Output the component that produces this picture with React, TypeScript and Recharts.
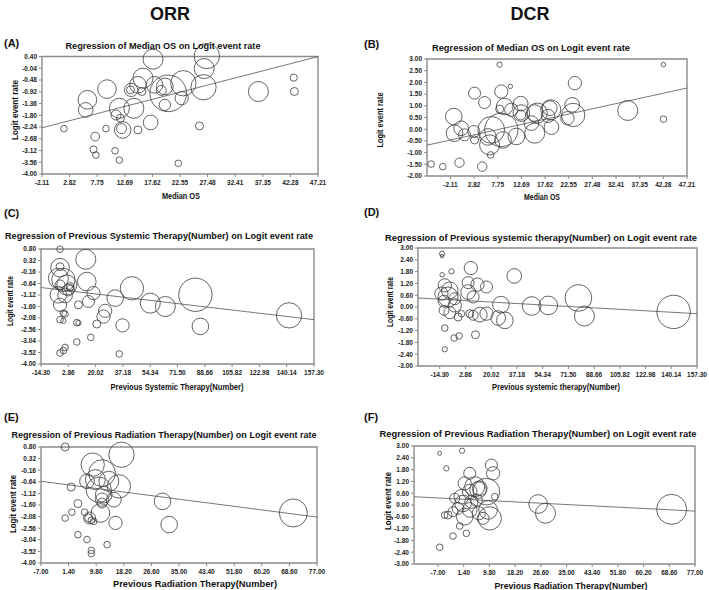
import React from "react";
import {
  ScatterChart,
  Scatter,
  XAxis,
  YAxis,
  ZAxis,
  ReferenceArea,
  ReferenceLine,
} from "recharts";

const FONT = "Arial, 'Liberation Sans', Helvetica, sans-serif";

// axis ticks
const osTicks = [-2.11, 2.82, 7.75, 12.69, 17.62, 22.55, 27.48, 32.41, 37.35, 42.28, 47.21];
const sysTicks = [-14.3, 2.86, 20.02, 37.18, 54.34, 71.5, 88.66, 105.82, 122.98, 140.14, 157.3];
const radTicks = [-7, 1.4, 9.8, 18.2, 26.6, 35, 43.4, 51.8, 60.2, 68.6, 77];
const orrTicks = [0.4, -0.04, -0.48, -0.92, -1.36, -1.8, -2.24, -2.68, -3.12, -3.56, -4.0];
const orrTicks2 = [0.8, 0.32, -0.16, -0.64, -1.12, -1.6, -2.08, -2.56, -3.04, -3.52, -4.0];
const dcrOsTicks = [3.0, 2.5, 2.0, 1.5, 1.0, 0.5, 0.0, -0.5, -1.0, -1.5, -2.0];
const dcrTicks = [3.0, 2.4, 1.8, 1.2, 0.6, 0.0, -0.6, -1.2, -1.8, -2.4, -3.0];

// (A) ORR vs median OS
const aX = [1.8, 17.73, 27.35, 26.87, 26.75, 23.15, 20.44, 15.93, 18.0, 19.84, 19.2, 22.85, 19.84, 17.31, 13.82, 15.03, 15.75, 13.7, 9.5, 6.0, 5.7, 11.72, 14.3, 11.12, 11.9, 12.32, 12.1, 15.03, 9.32, 7.39, 7.09, 7.51, 10.94, 11.72, 22.24, 26.03, 36.56, 42.87, 42.99];
const aY = [-2.3, 0.3, 0.42, -0.05, -0.75, -0.6, -0.98, -0.41, -0.66, -0.72, -0.87, -1.16, -1.41, -2.07, -0.85, -0.66, -0.91, -0.85, -0.82, -1.22, -1.6, -1.54, -1.54, -1.79, -1.91, -2.35, -2.3, -2.35, -2.3, -2.6, -3.08, -3.29, -3.13, -3.48, -3.6, -2.2, -0.91, -0.39, -0.91];
const aW = [11, 100, 160, 100, 160, 160, 336, 100, 69, 69, 25, 44, 32, 54, 44, 69, 16, 16, 87, 87, 54, 100, 100, 25, 16, 69, 25, 16, 11, 19, 13, 11, 11, 11, 11, 16, 100, 13, 16];

// (B) DCR vs median OS
const bX = [8.14, 42.3, 10.37, 23.83, 2.91, 8.49, 5.0, 12.67, 9.19, 8.14, 10.58, 12.53, 15.46, 12.53, 16.0, 18.6, 18.25, 23.27, 22.29, 23.48, 18.81, 34.85, 42.3, -1.41, -1.27, 0.12, 0.82, 2.77, 2.91, 6.4, 6.05, 5.7, 8.49, 8.84, 6.26, 11.63, 14.77, 15.46, 18.95, -6.15, -3.71, -0.23, 4.52];
const bY = [2.76, 2.76, 1.83, 1.97, 1.54, 1.61, 1.14, 0.69, 0.97, 0.86, 0.83, 1.09, 0.69, 0.61, 0.69, 0.9, 0.57, 1.04, 0.47, 0.61, 0.83, 0.8, 0.43, 0.54, -0.17, 0.04, -0.24, -0.1, -0.46, -0.03, -0.67, -0.33, -0.03, -0.46, -1.1, -0.31, 0.26, -0.17, 0.09, -1.49, -1.6, -1.43, -1.6];
const bW = [7, 5, 5, 44, 36, 44, 36, 69, 69, 16, 44, 54, 69, 25, 100, 54, 44, 54, 44, 136, 100, 100, 11, 69, 69, 54, 36, 36, 16, 178, 100, 69, 278, 69, 11, 69, 54, 100, 54, 11, 11, 22, 22];

// (C) ORR vs previous systemic therapy
const cX = [-2.33, 13.85, -2.33, -2.33, -3.37, -0.22, 1.88, 14.48, -2.33, 3.98, 2.93, -3.37, 0.83, 18.68, 15.53, -2.33, 9.23, 26.04, 24.99, 32.34, 42.84, 54.4, 63.85, 82.76, 85.9, 141.6, 36.96, 20.78, 8.18, 9.23, -2.33, -0.22, 0.83, -0.22, 8.18, 17.0, 0.83, -0.22, -2.33, 34.86, 3.98];
const cY = [0.79, 0.37, 0.02, 0.06, -0.42, -0.49, -0.7, -0.56, -0.7, -0.77, -0.91, -1.11, -1.14, -1.04, -1.39, -1.53, -1.53, -1.78, -2.02, -1.25, -0.84, -1.46, -1.6, -1.11, -2.43, -1.97, -2.39, -2.33, -2.27, -2.29, -2.15, -2.2, -1.92, -1.88, -3.08, -2.89, -3.31, -3.44, -3.54, -3.58, -0.84];
const cW = [11, 100, 87, 16, 100, 136, 100, 87, 25, 16, 36, 69, 54, 44, 36, 44, 16, 44, 44, 69, 136, 100, 100, 278, 69, 160, 44, 16, 11, 7, 11, 7, 11, 11, 11, 11, 11, 11, 11, 11, 11];

// (D) DCR vs previous systemic therapy
const dX = [-12.74, -12.74, -12.74, -6.5, 6.43, 35.4, 4.64, 10.88, 16.9, -10.96, -7.61, -13.19, -8.73, -11.4, -4.27, 4.64, 7.99, -4.27, -11.4, -7.61, -2.04, 0.19, 5.76, 7.99, 12.44, 16.9, 26.48, 24.7, 29.16, 47.0, 58.1, 78.2, 82.2, 141.7, -10.96, -4.72, -1.37, 9.55, -10.96];
const dY = [2.71, 2.59, 1.64, 1.81, 1.98, 1.58, 1.24, 1.14, 1.02, 1.1, 0.85, 0.68, 0.51, 0.29, 0.42, 0.76, 0.51, 0.08, -0.17, -0.29, -0.51, -0.34, -0.34, -0.42, -0.39, -0.34, 0.12, -0.56, -0.68, 0.05, 0.08, 0.46, -0.46, -0.25, -1.07, -1.58, -1.47, -1.41, -2.15];
const dW = [7, 3, 5, 7, 44, 54, 36, 44, 36, 44, 69, 44, 100, 36, 36, 54, 36, 44, 25, 36, 16, 11, 16, 25, 54, 44, 69, 54, 69, 87, 87, 178, 100, 278, 11, 11, 11, 16, 7];

// (E) ORR vs previous radiation therapy
const eX = [0.35, 17.5, 8.73, 11.59, 9.55, 7.0, 13.63, 16.7, 10.57, 12.1, 11.59, 15.17, 11.59, 11.08, 2.19, 4.24, 2.4, 6.28, 0.35, 7.5, 8.3, 9.04, 15.68, 29.98, 32.0, 69.8, 4.24, 7.0, 8.32, 8.32, 13.12, 7.8];
const eY = [0.8, 0.48, 0.07, -0.28, -0.55, -0.62, -0.62, -0.83, -0.97, -1.17, -1.38, -1.38, -1.52, -1.93, -0.86, -1.54, -1.9, -1.9, -2.14, -2.14, -2.23, -2.28, -2.34, -1.45, -2.41, -1.93, -2.83, -3.03, -3.48, -3.61, -3.24, -2.14];
const eW = [16, 160, 136, 178, 100, 54, 100, 136, 160, 69, 44, 54, 25, 87, 16, 16, 11, 11, 11, 16, 11, 11, 44, 69, 69, 196, 11, 11, 11, 11, 11, 36];

// (F) DCR vs previous radiation therapy
const fX = [-6.45, 0.85, -4.27, 10.45, 11.0, 3.36, 1.73, 4.99, 6.09, 3.36, 8.82, 6.64, 0.64, 1.18, 3.91, 5.54, 3.36, 1.73, 6.31, 9.36, 7.73, 9.91, 11.55, -3.73, -2.09, -4.82, -2.09, 0.09, 2.27, -6.45, 25.73, 28.13, 69.36, -1.55, -0.45];
const fY = [2.63, 2.76, 1.86, 2.03, 1.61, 1.61, 1.1, 0.93, 0.76, 0.68, 0.68, 0.85, 0.42, 0.08, 0.17, 0.25, -0.25, -0.59, -0.42, -0.25, -0.68, -0.68, 0.42, -0.51, -0.34, -0.51, -1.58, -1.07, -1.44, -2.15, 0.05, -0.42, -0.22, 0.34, -0.17];
const fW = [4, 7, 7, 36, 44, 36, 44, 100, 69, 54, 178, 54, 54, 69, 44, 36, 54, 69, 44, 87, 36, 136, 11, 16, 25, 11, 11, 11, 11, 11, 87, 100, 225, 25, 36];

// regression lines (logit = intercept + slope * x)
const regA = { intercept: -2.156, slope: 0.0541 };
const regB = { intercept: -0.367, slope: 0.04505 };
const regC = { intercept: -0.92, slope: -0.00781 };
const regD = { intercept: 0.336, slope: -0.0043 };
const regE = { intercept: -0.743, slope: -0.01762 };
const regF = { intercept: 0.302, slope: -0.00795 };

const toPoints = (xs: number[], ys: number[], ws: number[]) =>
  xs.map((x, i) => ({ x, y: ys[i], w: ws[i] }));

interface PanelProps {
  frame: [number, number, number, number];
  xDomain: [number, number];
  xTicks: number[];
  yTicks: number[];
  points: { x: number; y: number; w: number }[];
  reg: { intercept: number; slope: number };
}

function Panel({ frame, xDomain, xTicks, yTicks, points, reg }: PanelProps) {
  const [fx, fy, fw, fh] = frame;
  const axisW = 34;
  const mTop = 24;
  const mRight = 22;
  const axisH = 16;
  const mBottom = 6;
  const yDomain: [number, number] = [yTicks[yTicks.length - 1], yTicks[0]];
  const tickStyle = { fontSize: 6.5, fontWeight: 700, fill: "#222", fontFamily: FONT };
  const segment = [
    { x: xDomain[0], y: reg.intercept + reg.slope * xDomain[0] },
    { x: xDomain[1], y: reg.intercept + reg.slope * xDomain[1] },
  ];
  return (
    <div style={{ position: "absolute", left: fx - axisW, top: fy - mTop }}>
      <ScatterChart
        width={axisW + fw + mRight}
        height={mTop + fh + axisH + mBottom}
        margin={{ top: mTop, right: mRight, bottom: mBottom, left: 0 }}
        style={{ overflow: "visible" }}
      >
        <XAxis
          type="number"
          dataKey="x"
          domain={xDomain}
          ticks={xTicks}
          interval={0}
          height={axisH}
          axisLine={false}
          tickSize={3}
          tickMargin={3}
          tickLine={{ stroke: "#888" }}
          tick={tickStyle}
          tickFormatter={(v: number) => v.toFixed(2)}
        />
        <YAxis
          type="number"
          dataKey="y"
          domain={yDomain}
          ticks={yTicks}
          interval={0}
          width={axisW}
          axisLine={false}
          tickSize={3}
          tickMargin={2}
          tickLine={{ stroke: "#888" }}
          tick={tickStyle}
          tickFormatter={(v: number) => v.toFixed(2)}
        />
        <ZAxis type="number" dataKey="w" domain={[0, 400]} range={[0, 400 * Math.PI]} />
        <ReferenceArea
          x1={xDomain[0]}
          x2={xDomain[1]}
          y1={yDomain[0]}
          y2={yDomain[1]}
          fill="none"
          stroke="#8c8c8c"
          strokeWidth={1.4}
          ifOverflow="visible"
        />
        <ReferenceLine segment={segment} stroke="#555" strokeWidth={0.8} ifOverflow="visible" />
        <Scatter
          data={points}
          fill="none"
          stroke="#3c3c3c"
          strokeWidth={0.8}
          isAnimationActive={false}
        />
      </ScatterChart>
    </div>
  );
}

// text whose vertical centre sits at y
function Label({ x, y, w, size, children, anchor = "middle", rotate = false }: any) {
  const base = y + size * 0.36;
  return (
    <text
      x={x}
      y={rotate ? y : base}
      textAnchor={anchor}
      fontSize={size}
      fontWeight={700}
      fontFamily={FONT}
      fill="#111"
      textLength={w}
      lengthAdjust={w ? "spacingAndGlyphs" : undefined}
      transform={rotate ? `rotate(-90 ${x} ${y}) translate(0 ${size * 0.36})` : undefined}
    >
      {children}
    </text>
  );
}

export default function App() {
  return (
    <div style={{ position: "absolute", left: 0, top: 0, width: 709, height: 590, background: "#fff", overflow: "hidden" }}>
      <Panel frame={[42, 56, 276, 118]} xDomain={[-2.11, 47.21]} xTicks={osTicks} yTicks={orrTicks} points={toPoints(aX, aY, aW)} reg={regA} />
      <Panel frame={[427, 59, 260, 117]} xDomain={[-7.0, 47.21]} xTicks={osTicks} yTicks={dcrOsTicks} points={toPoints(bX, bY, bW)} reg={regB} />
      <Panel frame={[41, 249, 273, 115]} xDomain={[-14.3, 157.3]} xTicks={sysTicks} yTicks={orrTicks2} points={toPoints(cX, cY, cW)} reg={regC} />
      <Panel frame={[418, 248, 279, 118]} xDomain={[-28.8, 157.3]} xTicks={sysTicks} yTicks={dcrTicks} points={toPoints(dX, dY, dW)} reg={regD} />
      <Panel frame={[41, 447, 276, 116]} xDomain={[-7, 77]} xTicks={radTicks} yTicks={orrTicks2} points={toPoints(eX, eY, eW)} reg={regE} />
      <Panel frame={[414, 446, 281, 118]} xDomain={[-14.85, 77]} xTicks={radTicks} yTicks={dcrTicks} points={toPoints(fX, fY, fW)} reg={regF} />

      <svg width={709} height={590} style={{ position: "absolute", left: 0, top: 0, pointerEvents: "none" }}>
        <Label x={170} y={14} size={18}>ORR</Label>
        <Label x={530} y={14} size={18}>DCR</Label>

        <Label x={4} y={43} size={11} anchor="start">(A)</Label>
        <Label x={364} y={44} size={11} anchor="start">(B)</Label>
        <Label x={4} y={213} size={11} anchor="start">(C)</Label>
        <Label x={364} y={212} size={11} anchor="start">(D)</Label>
        <Label x={4} y={417} size={11} anchor="start">(E)</Label>
        <Label x={364} y={417} size={11} anchor="start">(F)</Label>

        <Label x={163} y={46} w={195} size={9}>Regression of Median OS on Logit event rate</Label>
        <Label x={531} y={48} w={198} size={9}>Regression of Median OS on Logit event rate</Label>
        <Label x={159} y={236} w={308} size={9}>Regression of Previous Systemic Therapy(Number) on Logit event rate</Label>
        <Label x={541} y={238} w={312} size={9}>Regression of  Previous systemic therapy(Number) on Logit event rate</Label>
        <Label x={164} y={435} w={305} size={9}>Regression of Previous Radiation Therapy(Number) on Logit event rate</Label>
        <Label x={538} y={434} w={317} size={9}>Regression of Previous Radiation Therapy(Number) on Logit event rate</Label>

        <Label x={181} y={196} w={38} size={8.5}>Median OS</Label>
        <Label x={542} y={197} w={36} size={8.5}>Median OS</Label>
        <Label x={177} y={387} w={133} size={8.5}>Previous Systemic Therapy(Number)</Label>
        <Label x={556} y={387} w={128} size={8.5}>Previous systemic therapy(Number)</Label>
        <Label x={195} y={584} w={164} size={8.5}>Previous Radiation Therapy(Number)</Label>
        <Label x={571} y={586} w={153} size={8.5}>Previous Radiation Therapy(Number)</Label>

        <Label x={15} y={110} w={60} size={8.5} rotate>Logit event rate</Label>
        <Label x={380} y={120} w={55} size={8.5} rotate>Logit event rate</Label>
        <Label x={10} y={301} w={50} size={8.5} rotate>Logit event rate</Label>
        <Label x={390} y={302} w={50} size={8.5} rotate>Logit event rate</Label>
        <Label x={13} y={504} w={58} size={8.5} rotate>Logit event rate</Label>
        <Label x={388} y={501} w={58} size={8.5} rotate>Logit event rate</Label>
      </svg>
    </div>
  );
}
